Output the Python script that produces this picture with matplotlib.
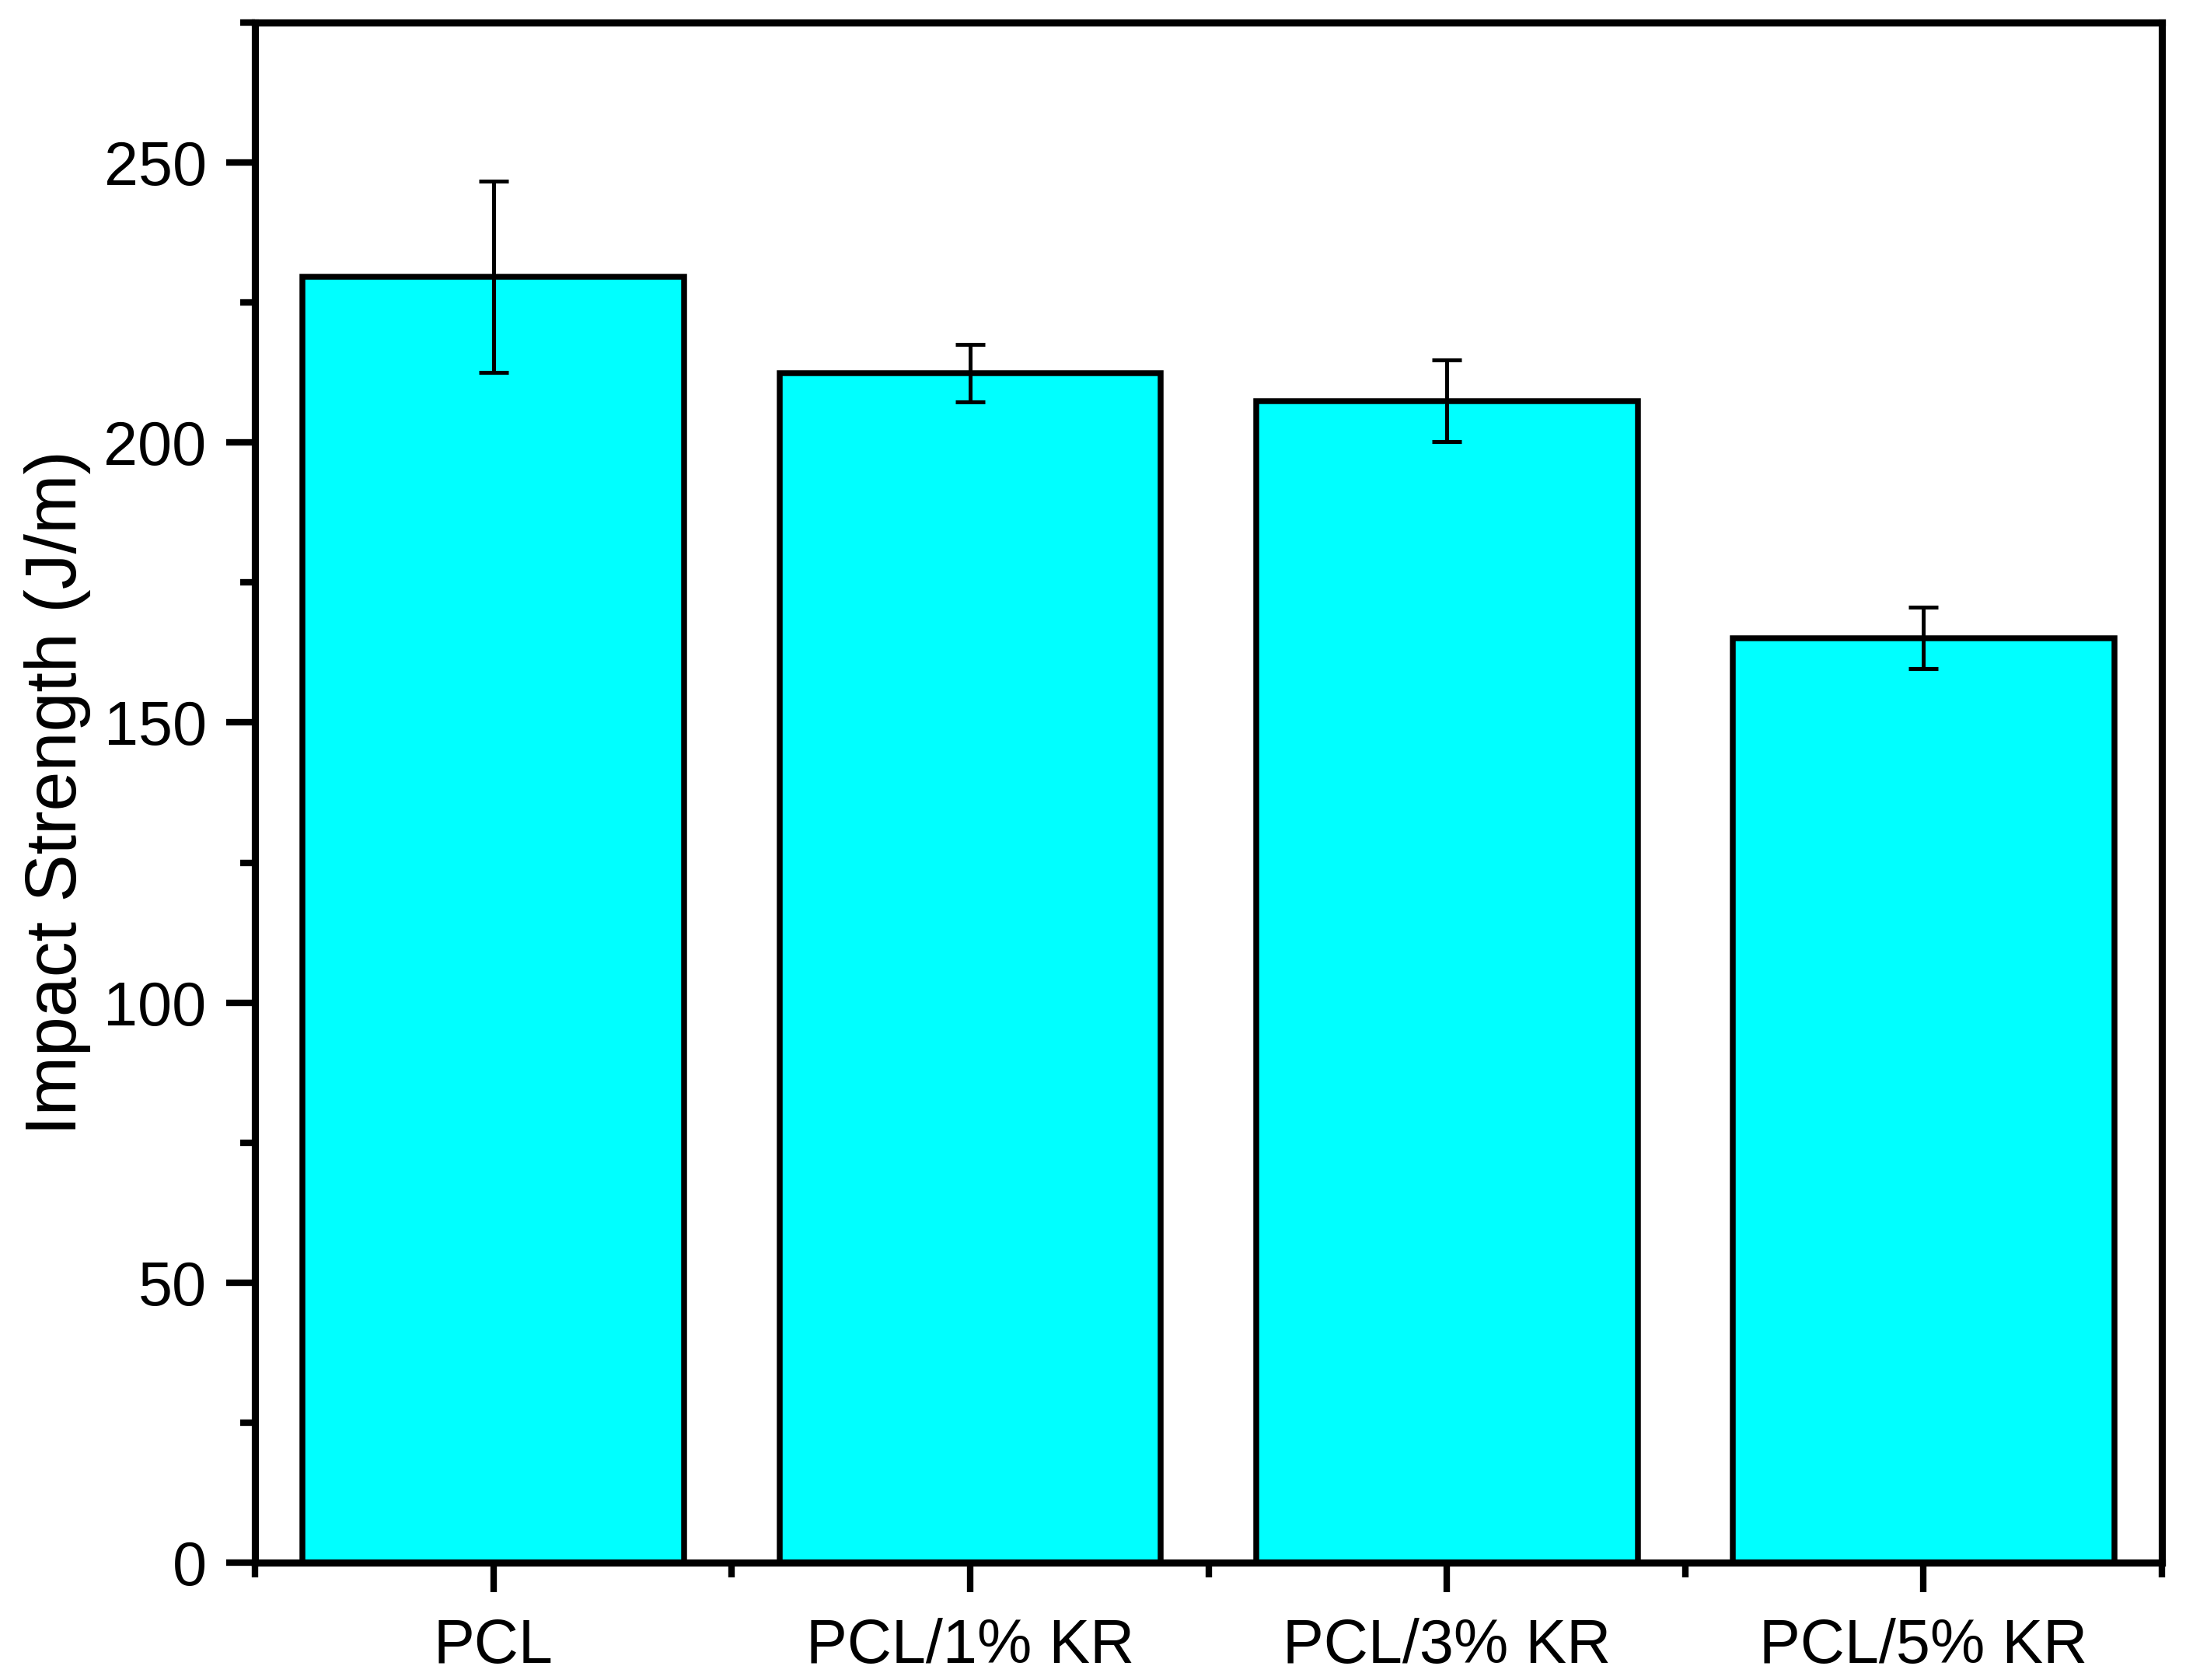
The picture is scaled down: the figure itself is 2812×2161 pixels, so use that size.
import matplotlib
matplotlib.use("Agg")
import matplotlib.pyplot as plt
from matplotlib.ticker import MultipleLocator, FixedLocator
import numpy as np

plt.rcParams["font.family"] = ["Liberation Sans", "DejaVu Sans"]

samples = ["PCL", "PCL/1% KR", "PCL/3% KR", "PCL/5% KR"]
impact = [229.6, 212.4, 207.4, 165.1]
impact_err = [17.1, 5.1, 7.3, 5.5]

fig = plt.figure(figsize=(2812 / 300, 2161 / 300), dpi=300)
ax = fig.add_axes([0.1167, 0.0697, 0.989 - 0.1167, 0.9867 - 0.0697])

x = np.arange(len(samples))
ax.bar(x, impact, width=0.8, color="#00FFFF", edgecolor="black", linewidth=1.8, zorder=2)
ax.errorbar(x, impact, yerr=impact_err, fmt="none", ecolor="black",
            elinewidth=1.2, capsize=4.6, capthick=1.2, zorder=3)

ax.set_xlim(-0.5, len(samples) - 0.5)
ax.set_ylim(0, 275)
ax.set_xticks(x)
ax.set_xticklabels(samples)
ax.xaxis.set_minor_locator(FixedLocator(np.arange(-0.5, len(samples), 1.0)))
ax.yaxis.set_major_locator(MultipleLocator(50))
ax.yaxis.set_minor_locator(MultipleLocator(25))

ax.set_ylabel("Impact Strength (J/m)", fontsize=22, labelpad=4)
ax.tick_params(axis="both", which="major", direction="out", length=9, width=2,
               labelsize=19, pad=6)
ax.tick_params(axis="both", which="minor", direction="out", length=4.5, width=2)
ax.tick_params(axis="x", which="major", pad=8)
for s in ax.spines.values():
    s.set_linewidth(2.2)

fig.savefig("out.png", dpi=300)
